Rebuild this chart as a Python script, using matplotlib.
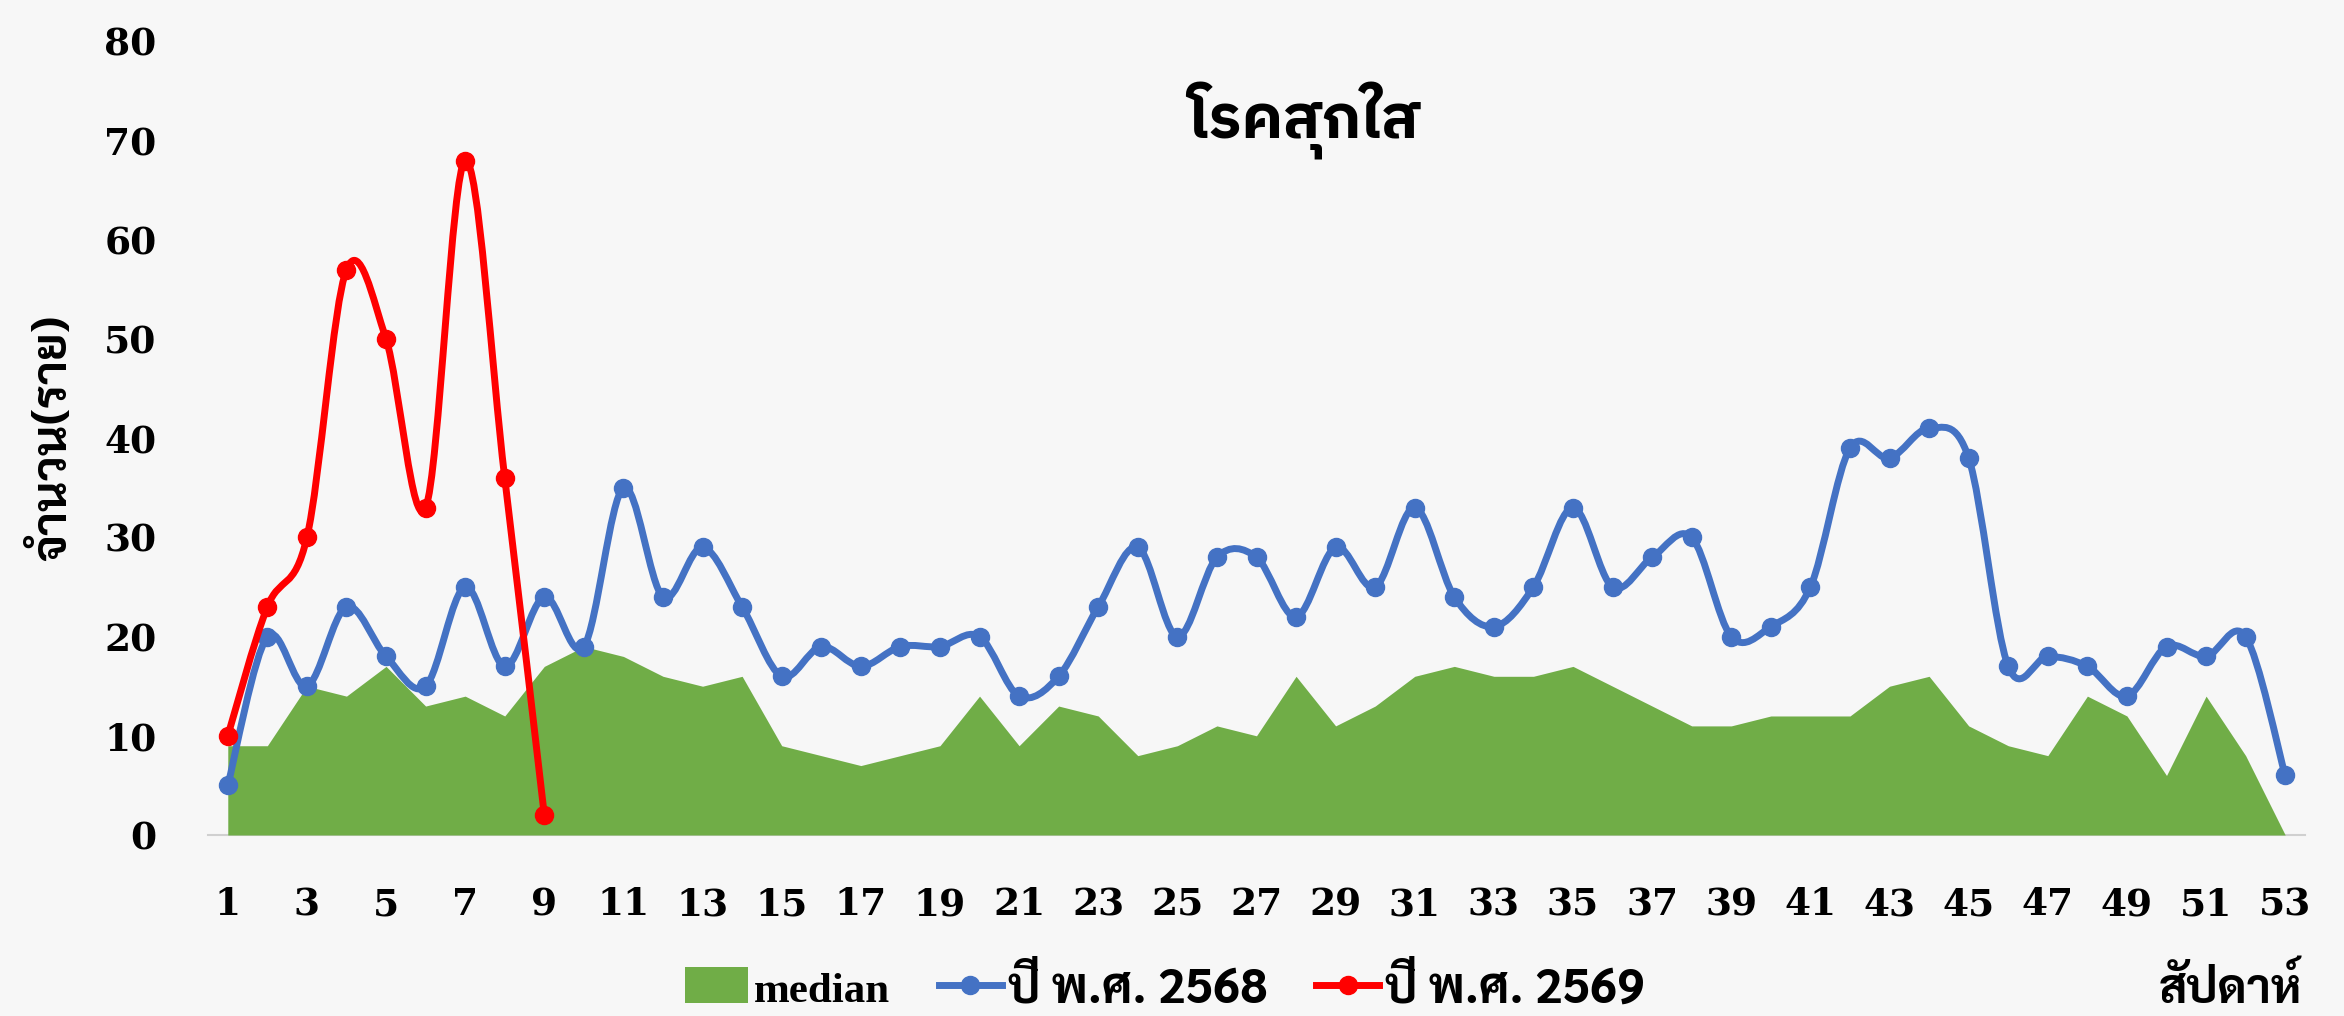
import numpy as np
import matplotlib
matplotlib.use("Agg")
import matplotlib.pyplot as plt
from matplotlib.path import Path
from matplotlib.patches import PathPatch, Patch
from matplotlib.lines import Line2D

# ---------------- data ----------------
weeks = list(range(1, 54))
median = [9, 9, 15, 14, 17, 13, 14, 12, 17, 19, 18, 16, 15, 16, 9, 8, 7, 8, 9, 14,
          9, 13, 12, 8, 9, 11, 10, 16, 11, 13, 16, 17, 16, 16, 17, 15, 13, 11, 11, 12,
          12, 12, 15, 16, 11, 9, 8, 14, 12, 6, 14, 8, 0]
cases_2568 = [5, 20, 15, 23, 18, 15, 25, 17, 24, 19, 35, 24, 29, 23, 16, 19, 17, 19, 19, 20,
              14, 16, 23, 29, 20, 28, 28, 22, 29, 25, 33, 24, 21, 25, 33, 25, 28, 30, 20, 21,
              25, 39, 38, 41, 38, 17, 18, 17, 14, 19, 18, 20, 6]
weeks_2569 = [1, 2, 3, 4, 5, 6, 7, 8, 9]
cases_2569 = [10, 23, 30, 57, 50, 33, 68, 36, 2]
xtick_labels = [str(w) for w in range(1, 54, 2)]
ytick_values = [0, 10, 20, 30, 40, 50, 60, 70, 80]

title = "โรคสุกใส"
ylabel = "จำนวน(ราย)"
xlabel = "สัปดาห์"
legend_labels = ["median", "ปี พ.ศ. 2568", "ปี พ.ศ. 2569"]

# ---------------- style ----------------
BG = "#F7F7F7"
GREEN = "#70AD47"
BLUE = "#4472C4"
RED = "#FF0000"
THAI = "Sarabun"
TICKFONT = "DejaVu Serif"
LW = 5.0
MS = 13


def smooth_path(xs, ys):
    """Excel-like smoothed line (Catmull-Rom as cubic Bezier)."""
    pts = np.column_stack([xs, ys]).astype(float)
    n = len(pts)
    verts = [pts[0]]
    codes = [Path.MOVETO]
    for i in range(n - 1):
        p0 = pts[i - 1] if i > 0 else pts[i]
        p1 = pts[i]
        p2 = pts[i + 1]
        p3 = pts[i + 2] if i + 2 < n else pts[i + 1]
        c1 = p1 + (p2 - p0) / 6.0
        c2 = p2 - (p3 - p1) / 6.0
        verts += [c1, c2, p2]
        codes += [Path.CURVE4] * 3
    return Path(verts, codes)


fig = plt.figure(figsize=(23.44, 10.16), dpi=100, facecolor=BG)
ax = fig.add_axes([208 / 2344, 1 - 835 / 1016, (2305 - 208) / 2344, (835 - 41.5) / 1016])
ax.set_facecolor(BG)

# median area
ax.fill_between(weeks, 0, median, color=GREEN, lw=0, zorder=1)

# 2568 line
ax.add_patch(PathPatch(smooth_path(weeks, cases_2568), fill=False, edgecolor=BLUE,
                       lw=LW, capstyle="round", joinstyle="round", zorder=3))
ax.plot(weeks, cases_2568, linestyle="none", marker="o", ms=MS, color=BLUE, zorder=4)

# 2569 line
ax.add_patch(PathPatch(smooth_path(weeks_2569, cases_2569), fill=False, edgecolor=RED,
                       lw=LW, capstyle="round", joinstyle="round", zorder=5))
ax.plot(weeks_2569, cases_2569, linestyle="none", marker="o", ms=MS, color=RED, zorder=6)

ax.set_xlim(0.5, 53.5)
ax.set_ylim(0, 80)
ax.set_xticks(list(range(1, 54, 2)))
ax.set_xticklabels(xtick_labels)
ax.set_yticks(ytick_values)
ax.set_yticklabels([str(v) for v in ytick_values])
ax.tick_params(axis="both", length=0, pad=37, labelsize=27)
for lab in ax.get_xticklabels() + ax.get_yticklabels():
    lab.set_fontfamily(TICKFONT)
    lab.set_fontweight("bold")

for s in ["top", "right", "left"]:
    ax.spines[s].set_visible(False)
ax.spines["bottom"].set_color("#D0D0D0")
ax.spines["bottom"].set_linewidth(1.5)
ax.spines["bottom"].set_zorder(0.5)

# title
fig.text(1304 / 2344, 1 - 138 / 1016, title, ha="center", va="baseline",
         fontsize=44, fontweight="bold", family=["IBM Plex Sans Thai", "DejaVu Sans"])

# y label
fig.text(54 / 2344, 1 - 438 / 1016, ylabel, rotation=90, ha="center", va="center",
         fontsize=34, fontweight="bold", family=[THAI, "DejaVu Sans"])

# x label (week)
fig.text(2302 / 2344, 1 - 1003 / 1016, xlabel, ha="right", va="baseline",
         fontsize=34, fontweight="bold", family=[THAI, "DejaVu Sans"])

# legend
handles = [
    Patch(facecolor=GREEN, edgecolor="none"),
    Line2D([], [], color=BLUE, lw=LW, marker="o", ms=MS),
    Line2D([], [], color=RED, lw=LW, marker="o", ms=MS),
]
leg = fig.legend(handles, legend_labels, loc="center", bbox_to_anchor=(1165 / 2344, 1 - 989 / 1016),
                 ncol=3, frameon=False, fontsize=35, handlelength=1.3, handleheight=0.75,
                 handletextpad=0.12, columnspacing=1.0, borderpad=0, borderaxespad=0)
texts = leg.get_texts()
texts[0].set_fontfamily(["Liberation Serif", "DejaVu Serif"])
texts[0].set_fontsize(31)
texts[0].set_fontweight("bold")
for t in texts[1:]:
    t.set_fontfamily([THAI, "DejaVu Sans"])
    t.set_fontweight("bold")

fig.savefig("out.png", dpi=100, facecolor=BG)
